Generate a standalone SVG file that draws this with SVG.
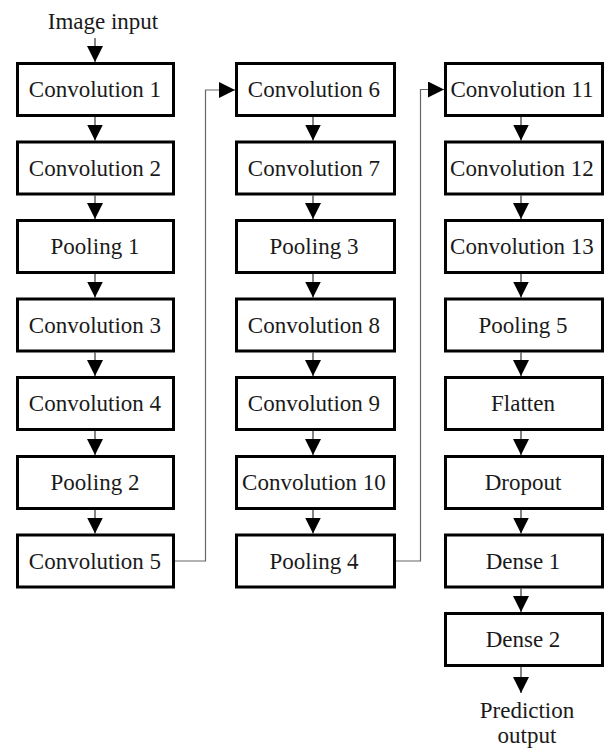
<svg xmlns="http://www.w3.org/2000/svg" width="606" height="749" viewBox="0 0 606 749">
<defs>
<marker id="ah" markerUnits="userSpaceOnUse" markerWidth="16" markerHeight="16" refX="16" refY="8" orient="auto" viewBox="0 0 16 16">
<path d="M0,0 L16,8 L0,16 Z" fill="#000"/>
</marker>
<style>
.box{fill:#fff;stroke:#000;stroke-width:3}
.t{font-size:23px;fill:#1a1a1a;text-anchor:middle}
.c{fill:none;stroke:#333;stroke-width:1.2}
.g{fill:none;stroke:#666;stroke-width:1.2}
</style>
</defs>
<rect width="606" height="749" fill="#fff"/>
<g id="connectors">
<line class="c" x1="95" y1="38" x2="95" y2="62" marker-end="url(#ah)"/>
<line class="c" x1="95" y1="117" x2="95" y2="140.5" marker-end="url(#ah)"/>
<line class="c" x1="95" y1="195.5" x2="95" y2="219" marker-end="url(#ah)"/>
<line class="c" x1="95" y1="274" x2="95" y2="297.5" marker-end="url(#ah)"/>
<line class="c" x1="95" y1="352.5" x2="95" y2="376" marker-end="url(#ah)"/>
<line class="c" x1="95" y1="431" x2="95" y2="455" marker-end="url(#ah)"/>
<line class="c" x1="95" y1="510" x2="95" y2="533.5" marker-end="url(#ah)"/>
<polyline class="g" points="175,561 205.5,561 205.5,90 235,90" marker-end="url(#ah)"/>
<line class="c" x1="313" y1="117" x2="313" y2="140.5" marker-end="url(#ah)"/>
<line class="c" x1="313" y1="195.5" x2="313" y2="219" marker-end="url(#ah)"/>
<line class="c" x1="313" y1="274" x2="313" y2="297.5" marker-end="url(#ah)"/>
<line class="c" x1="313" y1="352.5" x2="313" y2="376" marker-end="url(#ah)"/>
<line class="c" x1="313" y1="431" x2="313" y2="455" marker-end="url(#ah)"/>
<line class="c" x1="313" y1="510" x2="313" y2="533.5" marker-end="url(#ah)"/>
<polyline class="g" points="396,561 420.5,561 420.5,89.5 444,89.5" marker-end="url(#ah)"/>
<line class="c" x1="521" y1="117" x2="521" y2="140.5" marker-end="url(#ah)"/>
<line class="c" x1="521" y1="195.5" x2="521" y2="219" marker-end="url(#ah)"/>
<line class="c" x1="521" y1="274" x2="521" y2="297.5" marker-end="url(#ah)"/>
<line class="c" x1="521" y1="352.5" x2="521" y2="376" marker-end="url(#ah)"/>
<line class="c" x1="521" y1="431" x2="521" y2="455" marker-end="url(#ah)"/>
<line class="c" x1="521" y1="510" x2="521" y2="533.5" marker-end="url(#ah)"/>
<line class="c" x1="521" y1="588.5" x2="521" y2="612" marker-end="url(#ah)"/>
<line class="c" x1="521" y1="667" x2="521" y2="693" marker-end="url(#ah)"/>
</g>
<g font-family="'Liberation Serif', 'Times New Roman', 'DejaVu Serif', serif">
<g id="input"><text class="t" x="103" y="29">Image input</text></g>
<g id="conv1"><rect class="box" x="17.5" y="63.5" width="156" height="52"/><text class="t" x="95" y="97">Convolution 1</text></g>
<g id="conv2"><rect class="box" x="17.5" y="142" width="156" height="52"/><text class="t" x="95" y="175.5">Convolution 2</text></g>
<g id="pool1"><rect class="box" x="17.5" y="220.5" width="156" height="52"/><text class="t" x="95" y="254">Pooling 1</text></g>
<g id="conv3"><rect class="box" x="17.5" y="299" width="156" height="52"/><text class="t" x="95" y="332.5">Convolution 3</text></g>
<g id="conv4"><rect class="box" x="17.5" y="377.5" width="156" height="52"/><text class="t" x="95" y="411">Convolution 4</text></g>
<g id="pool2"><rect class="box" x="17.5" y="456.5" width="156" height="52"/><text class="t" x="95" y="490">Pooling 2</text></g>
<g id="conv5"><rect class="box" x="17.5" y="535" width="156" height="52"/><text class="t" x="95" y="568.5">Convolution 5</text></g>
<g id="conv6"><rect class="box" x="236.5" y="63.5" width="158" height="52"/><text class="t" x="314" y="97">Convolution 6</text></g>
<g id="conv7"><rect class="box" x="236.5" y="142" width="158" height="52"/><text class="t" x="314" y="175.5">Convolution 7</text></g>
<g id="pool3"><rect class="box" x="236.5" y="220.5" width="158" height="52"/><text class="t" x="314" y="254">Pooling 3</text></g>
<g id="conv8"><rect class="box" x="236.5" y="299" width="158" height="52"/><text class="t" x="314" y="332.5">Convolution 8</text></g>
<g id="conv9"><rect class="box" x="236.5" y="377.5" width="158" height="52"/><text class="t" x="314" y="411">Convolution 9</text></g>
<g id="conv10"><rect class="box" x="236.5" y="456.5" width="158" height="52"/><text class="t" x="314" y="490">Convolution 10</text></g>
<g id="pool4"><rect class="box" x="236.5" y="535" width="158" height="52"/><text class="t" x="314" y="568.5">Pooling 4</text></g>
<g id="conv11"><rect class="box" x="445.5" y="63.5" width="157" height="52"/><text class="t" x="522" y="97">Convolution 11</text></g>
<g id="conv12"><rect class="box" x="445.5" y="142" width="157" height="52"/><text class="t" x="522" y="175.5">Convolution 12</text></g>
<g id="conv13"><rect class="box" x="445.5" y="220.5" width="157" height="52"/><text class="t" x="522" y="254">Convolution 13</text></g>
<g id="pool5"><rect class="box" x="445.5" y="299" width="157" height="52"/><text class="t" x="523" y="332.5">Pooling 5</text></g>
<g id="flatten"><rect class="box" x="445.5" y="377.5" width="157" height="52"/><text class="t" x="523" y="411">Flatten</text></g>
<g id="dropout"><rect class="box" x="445.5" y="456.5" width="157" height="52"/><text class="t" x="523" y="490">Dropout</text></g>
<g id="dense1"><rect class="box" x="445.5" y="535" width="157" height="52"/><text class="t" x="523" y="568.5">Dense 1</text></g>
<g id="dense2"><rect class="box" x="445.5" y="613.5" width="157" height="52"/><text class="t" x="523" y="647">Dense 2</text></g>
<g id="output"><text class="t" x="527" y="718">Prediction</text><text class="t" x="527" y="743">output</text></g>
</g>
</svg>
